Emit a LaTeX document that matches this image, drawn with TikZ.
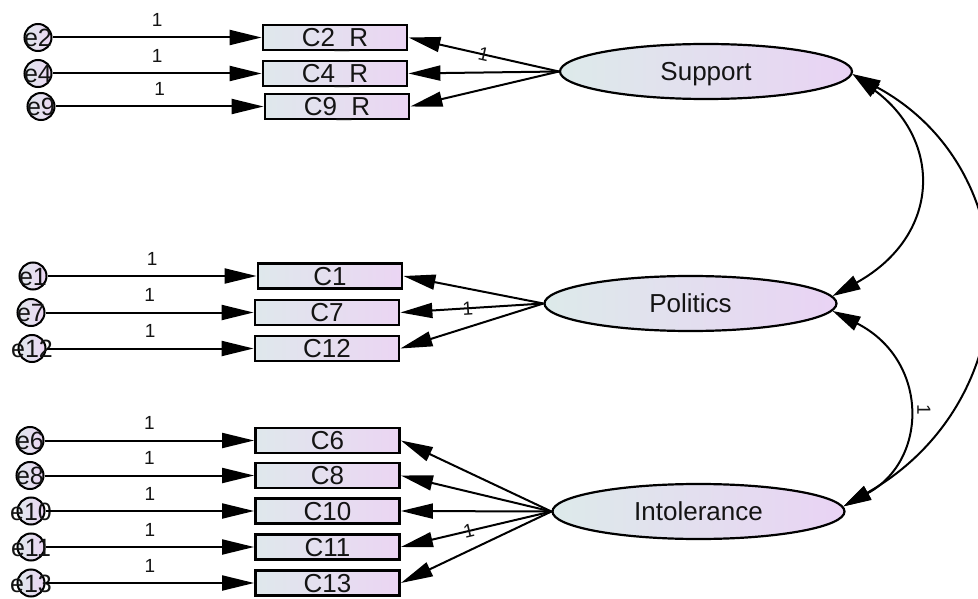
\documentclass[tikz,border=0pt]{standalone}
\usepackage{fontspec}
\setmainfont{Liberation Sans}
\usetikzlibrary{arrows.meta,shapes.geometric}

\definecolor{boxL}{HTML}{DFE8EC}
\definecolor{boxR}{HTML}{EBD5F3}
\definecolor{ellL}{HTML}{DDEAEA}
\definecolor{ellR}{HTML}{E9D3F4}
\definecolor{ink}{HTML}{141414}

\tikzset{
  obs/.style={draw=black, line width=2.8pt, left color=boxL, right color=boxR,
    minimum width=144pt, minimum height=25pt, inner sep=0pt,
    text height=18.5pt, text depth=0pt, text=ink, font=\fontsize{26}{30}\selectfont},
  latent/.style={ellipse, draw=black, line width=2.2pt, left color=ellL, right color=ellR,
    minimum width=292pt, minimum height=55pt, inner sep=0pt,
    text height=18.6pt, text depth=0pt, text=ink, font=\fontsize{26}{30}\selectfont},
  err/.style={circle, draw=black, line width=2pt, left color=boxL, right color=boxR,
    minimum size=27pt, inner sep=0pt, text height=18pt, text depth=0pt,
    text=ink, font=\fontsize{25}{30}\selectfont},
  one/.style={font=\fontsize{19}{20}\selectfont, inner sep=0pt, text height=13.5pt,
    text depth=0pt, text=ink},
  pathtip/.tip={Triangle[length=32pt,width=15pt]},
  covtip/.tip={Triangle[length=28pt,width=15pt]},
  errarr/.style={-pathtip, line width=2pt},
  load/.style={-pathtip, line width=2pt},
  cov/.style={covtip-covtip, line width=2pt}
}
% error label of zero width, so the circle keeps its own size
\newcommand{\errlabel}[1]{\makebox[0pt]{#1}}

\begin{document}
\begin{tikzpicture}[x=1pt,y=-1pt]
\useasboundingbox (0,0) rectangle (978,599);

% latent factors
\node[latent] (sup) at (706,71.5) {Support};
\node[latent] (pol) at (690.5,303.5) {Politics};
\node[latent] (int) at (698.5,511.5) {Intolerance};

% observed items
\node[obs] (c2)  at (335,37.5)   {C2\_R};
\node[obs] (c4)  at (335,73.5)   {C4\_R};
\node[obs] (c9)  at (337,106.5)  {C9\_R};
\node[obs] (c1)  at (330,276)    {C1};
\node[obs] (c7)  at (327,312.5)  {C7};
\node[obs] (c12) at (327,348.5)  {C12};
\node[obs] (c6)  at (327.5,440.5) {C6};
\node[obs] (c8)  at (327.5,475.5) {C8};
\node[obs] (c10) at (327.5,511)   {C10};
\node[obs] (c11) at (327.5,547)   {C11};
\node[obs] (c13) at (327.5,583)   {C13};

% error terms
\node[err] (e2)  at (38,37.5)  {\errlabel{e2}};
\node[err] (e4)  at (38,73.5)  {\errlabel{e4}};
\node[err] (e9)  at (41,106.5) {\errlabel{e9}};
\node[err] (e1)  at (33,276)   {\errlabel{e1}};
\node[err] (e7)  at (31,312.5) {\errlabel{e7}};
\node[err] (e12) at (32,348.5) {\errlabel{e12}};
\node[err] (e6)  at (30,440.5) {\errlabel{e6}};
\node[err] (e8)  at (30,475.5) {\errlabel{e8}};
\node[err] (e10) at (31,511)   {\errlabel{e10}};
\node[err] (e11) at (31,547)   {\errlabel{e11}};
\node[err] (e13) at (31,583)   {\errlabel{e13}};

% error paths, fixed at 1
\foreach \e/\c in {e2/c2,e4/c4,e9/c9,e1/c1,e7/c7,e12/c12,e6/c6,e8/c8,e10/c10,e11/c11,e13/c13}
  \draw[errarr] (\e) -- node[one, above=10pt]{1} (\c.west);

% factor loadings
\draw[load] (sup.west) -- node[one, sloped]{1} (c2.east);
\draw[load] (sup.west) -- (c4.east);
\draw[load] (sup.west) -- (c9.east);

\draw[load] (pol.west) -- (c1.east);
\draw[load] (pol.west) -- node[one, sloped, pos=0.53]{1} (c7.east);
\draw[load] (pol.west) -- (c12.east);

\draw[load] (int.west) -- (c6.east);
\draw[load] (int.west) -- (c8.east);
\draw[load] (int.west) -- (c10.east);
\draw[load] (int.west) -- node[one, sloped, pos=0.55]{1} (c11.east);
\draw[load] (int.west) -- (c13.east);

% factor covariances
\draw[cov] (sup.-1.5) .. controls (942,140) and (942,235) .. (pol.3);
\draw[cov] (sup.-1.5) .. controls (1030,170) and (1030,400) .. (int.2.5);
\draw[cov] (pol.-3) .. controls (929,360) and (929,460) .. node[one, pos=0.5, xshift=18pt, rotate=-90]{1} (int.2.5);
\end{tikzpicture}
\end{document}
